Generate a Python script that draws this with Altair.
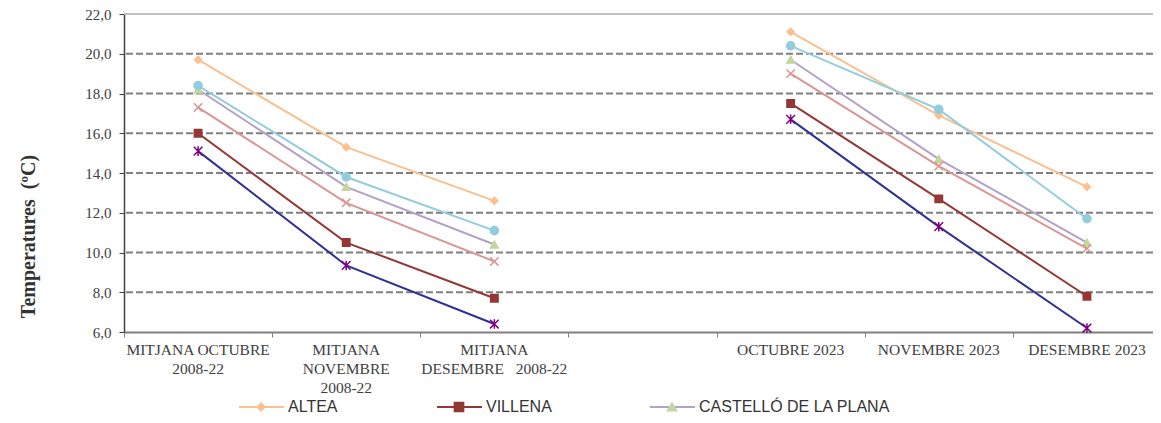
import altair as alt
import pandas as pd

# ---- data ----
categories = [
    "MITJANA OCTUBRE|2008-22",
    "MITJANA|NOVEMBRE|2008-22",
    "MITJANA|DESEMBRE\u00a0\u00a0\u00a02008-22",
    "",
    "OCTUBRE 2023",
    "NOVEMBRE 2023",
    "DESEMBRE 2023",
]
series_names = ["ALTEA", "VILLENA", "CASTELLÓ DE LA PLANA", "SÈRIE 4", "SÈRIE 5", "SÈRIE 6"]
altea    = [19.7, 15.3, 12.6, None, 21.1, 16.9, 13.3]
villena  = [16.0, 10.5, 7.7, None, 17.5, 12.7, 7.8]
castello = [18.2, 13.3, 10.4, None, 19.7, 14.7, 10.5]
serie4   = [18.4, 13.8, 11.1, None, 20.4, 17.2, 11.7]
serie5   = [17.3, 12.5, 9.55, None, 19.0, 14.35, 10.2]
serie6   = [15.1, 9.35, 6.4, None, 16.7, 11.3, 6.2]
all_values = [altea, villena, castello, serie4, serie5, serie6]
y_ticks = [6, 8, 10, 12, 14, 16, 18, 20, 22]

line_colors   = ["#FAC090", "#953735", "#B3A2C7", "#93CDDD", "#D99694", "#2E3192"]
marker_colors = ["#FAC090", "#953735", "#C3D69B", "#93CDDD", "#D99694", "#7F007F"]
X_PATH = "M-1,-1L1,1M-1,1L1,-1"
STAR_PATH = "M-1,-1L1,1M-1,1L1,-1M0,-1.1L0,1.1"
shapes = ["diamond", "square", "triangle-up", "circle", X_PATH, STAR_PATH]
sizes = [50, 75, 65, 80, 30, 50]

rows = []
for s, vals in zip(series_names, all_values):
    seg = 0
    for i, v in enumerate(vals):
        if v is None:
            seg += 1
            continue
        rows.append({"series": s, "idx": i, "value": v, "seg": f"{s}-{seg}"})
df = pd.DataFrame(rows)
cat_df = pd.DataFrame({"idx": list(range(len(categories))), "label": categories})

W, H = 1029, 318
xdom = [-0.5, 6.5 - 8 / 148.2]
xscale = alt.Scale(domain=xdom, nice=False, zero=False)
yscale = alt.Scale(domain=[6, 22], nice=False, zero=False)
SERIF = "Liberation Serif"
SANS = "Liberation Sans"

x_axis = alt.Axis(values=[i - 0.5 for i in range(8)], labels=False, title=None,
                  grid=False, domainColor="#808080", domainWidth=2,
                  tickColor="#808080", tickSize=5, tickWidth=1)
y_axis = alt.Axis(values=y_ticks, grid=False, title="Temperatures\u00a0\u00a0(ºC)",
                  titleFont=SERIF, titleFontSize=20, titleFontWeight="bold",
                  titleColor="#333333", titlePadding=46, titleY=222,
                  labelFont=SERIF, labelFontSize=15, labelColor="#404040",
                  labelOverlap=False,
                  labelExpr="replace(format(datum.value, '.1f'), '.', ',')",
                  domainColor="#404040", domainWidth=1.5,
                  tickColor="#404040", tickSize=5, labelPadding=8)

base = alt.Chart(df)

grid = alt.Chart(pd.DataFrame({"v": y_ticks[1:-1]})).mark_rule(
    color="#808080", strokeWidth=2, strokeDash=[7, 3]
).encode(y=alt.Y("v:Q", scale=yscale, axis=y_axis))

topline = alt.Chart(pd.DataFrame({"v": [22]})).mark_rule(
    color="#BFBFBF", strokeWidth=2
).encode(y=alt.Y("v:Q", scale=yscale, axis=y_axis))

lines = base.mark_line(strokeWidth=2).encode(
    x=alt.X("idx:Q", scale=xscale, axis=x_axis),
    y=alt.Y("value:Q", scale=yscale, axis=y_axis),
    color=alt.Color("series:N", scale=alt.Scale(domain=series_names, range=line_colors), legend=None),
    detail="seg:N",
)

points = base.mark_point(opacity=1, strokeWidth=1.5).encode(
    x=alt.X("idx:Q", scale=xscale, axis=x_axis),
    y=alt.Y("value:Q", scale=yscale, axis=y_axis),
    fill=alt.Fill("series:N", scale=alt.Scale(domain=series_names, range=marker_colors), legend=None),
    stroke=alt.Stroke("series:N", scale=alt.Scale(domain=series_names, range=marker_colors), legend=None),
    shape=alt.Shape("series:N", scale=alt.Scale(domain=series_names, range=shapes), legend=None),
    size=alt.Size("series:N", scale=alt.Scale(domain=series_names, range=sizes), legend=None),
)

xlabels = alt.Chart(cat_df).mark_text(
    font=SERIF, fontSize=15.5, color="#404040", baseline="top", align="center",
    lineBreak="|", lineHeight=19
).encode(
    x=alt.X("idx:Q", scale=xscale, axis=x_axis),
    y=alt.value(H + 11),
    text="label:N",
)

# custom legend (first three series only, as in the original)
legend_layers = []
leg_x = [115, 313, 526]
LY = 393
for k in range(3):
    x0 = leg_x[k]
    legend_layers.append(
        alt.Chart(pd.DataFrame({"a": [0]})).mark_rule(color=line_colors[k], strokeWidth=2).encode(
            x=alt.value(x0), x2=alt.value(x0 + 45), y=alt.value(LY))
    )
    legend_layers.append(
        alt.Chart(pd.DataFrame({"a": [0]})).mark_point(
            shape=shapes[k], size=sizes[k], fill=marker_colors[k], stroke=marker_colors[k],
            opacity=1, filled=True).encode(x=alt.value(x0 + 22), y=alt.value(LY))
    )
    legend_layers.append(
        alt.Chart(pd.DataFrame({"t": [series_names[k]]})).mark_text(
            font=SANS, fontSize=16, color="#333333", align="left", baseline="middle").encode(
            x=alt.value(x0 + 49), y=alt.value(LY), text="t:N")
    )

chart = alt.layer(grid, topline, lines, points, xlabels, *legend_layers).properties(
    width=W, height=H,
    padding={"left": 116, "top": 6, "right": 0, "bottom": 83},
    autosize=alt.AutoSizeParams(type="none"),
).configure_view(stroke=None).configure(background="white")

chart.save("out.html", embed_options={"renderer": "svg", "actions": False})
